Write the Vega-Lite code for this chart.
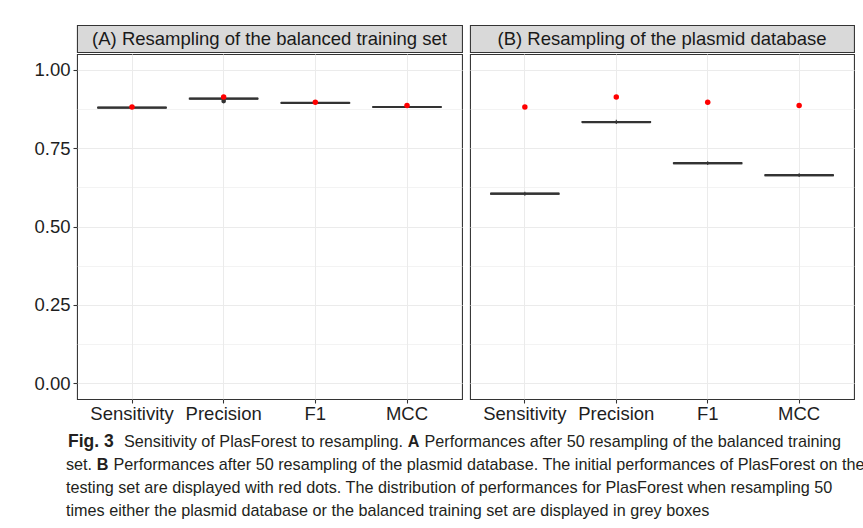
{
  "$schema": "https://vega.github.io/schema/vega-lite/v6.json",
  "padding": {"left": 33, "top": 24, "right": 0, "bottom": 0},
  "background": "white",
  "datasets": {
    "boxes": [
      {"panel": "A", "metric": "Sensitivity", "lower": 0.876, "q1": 0.878, "median": 0.879, "q3": 0.880, "upper": 0.882, "initial": 0.881},
      {"panel": "A", "metric": "Precision", "lower": 0.904, "q1": 0.907, "median": 0.908, "q3": 0.909, "upper": 0.911, "initial": 0.913},
      {"panel": "A", "metric": "F1", "lower": 0.891, "q1": 0.893, "median": 0.894, "q3": 0.895, "upper": 0.897, "initial": 0.896},
      {"panel": "A", "metric": "MCC", "lower": 0.878, "q1": 0.880, "median": 0.881, "q3": 0.882, "upper": 0.884, "initial": 0.886},
      {"panel": "B", "metric": "Sensitivity", "lower": 0.598, "q1": 0.603, "median": 0.605, "q3": 0.606, "upper": 0.611, "initial": 0.881},
      {"panel": "B", "metric": "Precision", "lower": 0.827, "q1": 0.832, "median": 0.833, "q3": 0.835, "upper": 0.840, "initial": 0.913},
      {"panel": "B", "metric": "F1", "lower": 0.696, "q1": 0.700, "median": 0.702, "q3": 0.703, "upper": 0.708, "initial": 0.896},
      {"panel": "B", "metric": "MCC", "lower": 0.658, "q1": 0.662, "median": 0.664, "q3": 0.665, "upper": 0.670, "initial": 0.886}
    ],
    "outliers": [
      {"panel": "A", "metric": "Precision", "value": 0.900}
    ],
    "strips": [
      {"panel": "A", "label": "(A) Resampling of the balanced training set"},
      {"panel": "B", "label": "(B) Resampling of the plasmid database"}
    ],
    "caption": [
      {"line": 1, "part": "fig", "text": "Fig. 3"},
      {"line": 1, "part": "l1a", "text": "Sensitivity of PlasForest to resampling."},
      {"line": 1, "part": "boldA", "text": "A"},
      {"line": 1, "part": "l1b", "text": "Performances after 50 resampling of the balanced training"},
      {"line": 2, "part": "l2a", "text": "set."},
      {"line": 2, "part": "boldB", "text": "B"},
      {"line": 2, "part": "l2b", "text": "Performances after 50 resampling of the plasmid database. The initial performances of PlasForest on the"},
      {"line": 3, "part": "body", "text": "testing set are displayed with red dots. The distribution of performances for PlasForest when resampling 50"},
      {"line": 4, "part": "body", "text": "times either the plasmid database or the balanced training set are displayed in grey boxes"}
    ]
  },
  "config": {
    "font": "Liberation Sans",
    "axis": {
      "gridColor": "#EBEBEB", "gridWidth": 1.07, "tickColor": "#333333", "tickSize": 4, "tickWidth": 1.07,
      "labelColor": "#1E1E1E", "labelFontSize": 18.5, "labelFont": "Liberation Sans", "domain": false, "title": null
    },
    "text": {"align": "left", "baseline": "middle", "font": "Liberation Sans", "fontSize": 16.2, "color": "#231F20"}
  },
  "spacing": 6,
  "vconcat": [
    {
      "spacing": 6,
      "hconcat": [
        {
          "spacing": 0,
          "vconcat": [
            {
              "width": 385, "height": 27,
              "data": {"name": "strips"},
              "transform": [{"filter": "datum.panel == 'A'"}],
              "view": {"fill": "#D9D9D9", "stroke": "#333333", "strokeWidth": 1.07},
              "mark": {"type": "text", "fontSize": 18.5, "color": "#1A1A1A", "baseline": "middle", "align": "center"},
              "encoding": {"text": {"field": "label"}}
            },
            {
              "width": 385, "height": 345,
              "data": {"name": "boxes"},
              "transform": [{"filter": "datum.panel == 'A'"}],
              "view": {"stroke": "#333333", "strokeWidth": 1.07},
              "encoding": {
                "x": {"field": "metric", "type": "nominal", "sort": ["Sensitivity", "Precision", "F1", "MCC"],
                  "scale": {"type": "band", "paddingInner": 0.25, "paddingOuter": 0.225},
                  "axis": {"grid": true, "bandPosition": 0.5, "labelAngle": 0, "labelPadding": 1}}
              },
              "layer": [
                {
                  "mark": {"type": "rule", "color": "#333333", "strokeWidth": 1.07},
                  "encoding": {
                    "y": {"field": "lower", "type": "quantitative", "scale": {"domain": [-0.05, 1.05], "nice": false},
                      "axis": {"values": [0, 0.25, 0.5, 0.75, 1], "format": ".2f", "grid": true, "labelPadding": 3}},
                    "y2": {"field": "upper"}
                  }
                },
                {
                  "mark": {"type": "bar", "fill": "white", "stroke": "#333333", "strokeWidth": 1.07},
                  "encoding": {
                    "y": {"field": "q1", "type": "quantitative", "scale": {"domain": [-0.05, 1.05], "nice": false},
                      "axis": {"values": [0.125, 0.375, 0.625, 0.875], "grid": true, "gridWidth": 0.6, "labels": false, "ticks": false, "orient": "right"}},
                    "y2": {"field": "q3"}
                  }
                },
                {
                  "mark": {"type": "bar", "fill": "#333333", "stroke": "#333333", "strokeWidth": 2.2},
                  "encoding": {
                    "y": {"field": "median", "type": "quantitative", "scale": {"domain": [-0.05, 1.05], "nice": false}, "axis": null},
                    "y2": {"field": "median"}
                  }
                },
                {
                  "data": {"name": "outliers"},
                  "transform": [{"filter": "datum.panel == 'A'"}],
                  "mark": {"type": "point", "filled": true, "color": "#333333", "size": 22, "opacity": 1},
                  "encoding": {
                    "y": {"field": "value", "type": "quantitative", "scale": {"domain": [-0.05, 1.05], "nice": false}, "axis": null}
                  }
                },
                {
                  "mark": {"type": "point", "filled": true, "color": "#FF0000", "size": 30, "opacity": 1},
                  "encoding": {
                    "y": {"field": "initial", "type": "quantitative", "scale": {"domain": [-0.05, 1.05], "nice": false}, "axis": null}
                  }
                }
              ],
              "resolve": {"axis": {"y": "independent"}}
            }
          ]
        },
        {
          "spacing": 0,
          "vconcat": [
            {
              "width": 384, "height": 27,
              "data": {"name": "strips"},
              "transform": [{"filter": "datum.panel == 'B'"}],
              "view": {"fill": "#D9D9D9", "stroke": "#333333", "strokeWidth": 1.07},
              "mark": {"type": "text", "fontSize": 18.5, "color": "#1A1A1A", "baseline": "middle", "align": "center"},
              "encoding": {"text": {"field": "label"}}
            },
            {
              "width": 384, "height": 345,
              "data": {"name": "boxes"},
              "transform": [{"filter": "datum.panel == 'B'"}],
              "view": {"stroke": "#333333", "strokeWidth": 1.07},
              "encoding": {
                "x": {"field": "metric", "type": "nominal", "sort": ["Sensitivity", "Precision", "F1", "MCC"],
                  "scale": {"type": "band", "paddingInner": 0.25, "paddingOuter": 0.225},
                  "axis": {"grid": true, "bandPosition": 0.5, "labelAngle": 0, "labelPadding": 1}}
              },
              "layer": [
                {
                  "mark": {"type": "rule", "color": "#333333", "strokeWidth": 1.07},
                  "encoding": {
                    "y": {"field": "lower", "type": "quantitative", "scale": {"domain": [-0.05, 1.05], "nice": false},
                      "axis": {"values": [0, 0.25, 0.5, 0.75, 1], "grid": true, "labels": false, "ticks": false}},
                    "y2": {"field": "upper"}
                  }
                },
                {
                  "mark": {"type": "bar", "fill": "white", "stroke": "#333333", "strokeWidth": 1.07},
                  "encoding": {
                    "y": {"field": "q1", "type": "quantitative", "scale": {"domain": [-0.05, 1.05], "nice": false},
                      "axis": {"values": [0.125, 0.375, 0.625, 0.875], "grid": true, "gridWidth": 0.6, "labels": false, "ticks": false, "orient": "right"}},
                    "y2": {"field": "q3"}
                  }
                },
                {
                  "mark": {"type": "bar", "fill": "#333333", "stroke": "#333333", "strokeWidth": 2.2},
                  "encoding": {
                    "y": {"field": "median", "type": "quantitative", "scale": {"domain": [-0.05, 1.05], "nice": false}, "axis": null},
                    "y2": {"field": "median"}
                  }
                },
                {
                  "mark": {"type": "point", "filled": true, "color": "#FF0000", "size": 30, "opacity": 1},
                  "encoding": {
                    "y": {"field": "initial", "type": "quantitative", "scale": {"domain": [-0.05, 1.05], "nice": false}, "axis": null}
                  }
                }
              ],
              "resolve": {"axis": {"y": "independent"}}
            }
          ]
        }
      ]
    },
    {
      "width": 840, "height": 92,
      "data": {"name": "caption"},
      "view": {"stroke": null},
      "encoding": {
        "y": {"field": "line", "type": "ordinal", "scale": {"type": "point", "padding": 0.5}, "axis": null},
        "x": {"value": 0},
        "text": {"field": "text"}
      },
      "layer": [
        {
          "transform": [{"filter": "datum.part == 'fig'"}],
          "mark": {"type": "text", "fontWeight": "bold", "fontSize": 17.5, "dx": -9}
        },
        {
          "transform": [{"filter": "datum.part == 'l1a'"}],
          "mark": {"type": "text", "dx": 47}
        },
        {
          "transform": [{"filter": "datum.part == 'boldA'"}],
          "mark": {"type": "text", "fontWeight": "bold", "dx": 330.8}
        },
        {
          "transform": [{"filter": "datum.part == 'l1b'"}],
          "mark": {"type": "text", "dx": 347.5}
        },
        {
          "transform": [{"filter": "datum.part == 'l2a'"}],
          "mark": {"type": "text", "dx": -11}
        },
        {
          "transform": [{"filter": "datum.part == 'boldB'"}],
          "mark": {"type": "text", "fontWeight": "bold", "dx": 19.8}
        },
        {
          "transform": [{"filter": "datum.part == 'l2b'"}],
          "mark": {"type": "text", "dx": 36.5}
        },
        {
          "transform": [{"filter": "datum.part == 'body'"}],
          "mark": {"type": "text", "dx": -11}
        }
      ]
    }
  ]
}
